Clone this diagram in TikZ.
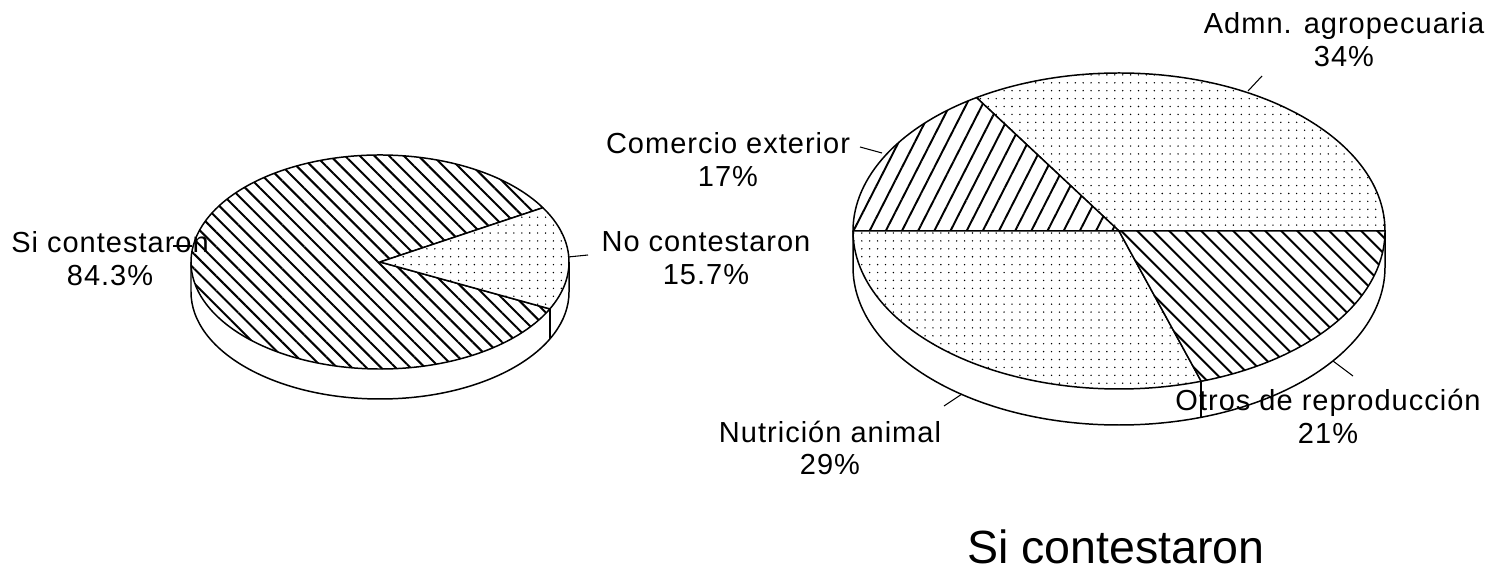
\documentclass[tikz,border=0pt]{standalone}
\usepackage{fontspec}
\setmainfont{Liberation Sans}
\usetikzlibrary{patterns.meta,calc}

\begin{document}
\begin{tikzpicture}[x=0.02cm,y=0.02cm,
  edge/.style={line width=0.85pt,line join=round},
  lead/.style={line width=0.6pt},
  dotwedge/.style={edge,preaction={fill=white},pattern={Dots[distance=4.5pt,radius=0.45pt]}},
  backhatch/.style={edge,preaction={fill=white},pattern={Lines[angle=-45,distance=5.9pt,line width=1.15pt]}},
  otroshatch/.style={edge,preaction={fill=white},pattern={Lines[angle=-45,distance=6.4pt,line width=1.15pt]}},
  fwdhatch/.style={edge,preaction={fill=white},pattern={Lines[angle=63,distance=8.2pt,line width=1.1pt]}},
  pielabel/.style={align=center,inner sep=0pt,font=\fontsize{16.5}{18.7}\selectfont\addfontfeatures{LetterSpace=3.5}}]
\useasboundingbox (0,0) rectangle (1493,-573);
% Left pie
\coordinate (lc) at (380,-262);
\draw[edge,fill=white] ($(lc)+(-189,0)$) -- ++(0,-30)
  arc[start angle=180,end angle=360,x radius=189,y radius=107] -- ++(0,30);
\draw[edge] ($(lc)+(-26:189 and 107)$) -- ++(0,-30);
\draw[backhatch] (lc) -- ($(lc)+(30.5:189 and 107)$)
  arc[start angle=30.5,end angle=334,x radius=189,y radius=107] -- cycle;
\draw[dotwedge] (lc) -- ($(lc)+(-26:189 and 107)$)
  arc[start angle=-26,end angle=30.5,x radius=189,y radius=107] -- cycle;
% Right pie
\coordinate (rc) at (1119,-231);
\draw[edge,fill=white] ($(rc)+(-266,0)$) -- ++(0,-36)
  arc[start angle=180,end angle=360,x radius=266,y radius=158] -- ++(0,36);
\draw[edge] ($(rc)+(288:266 and 158)$) -- ++(0,-36);
\draw[dotwedge] (rc) -- ($(rc)+(0:266 and 158)$)
  arc[start angle=0,end angle=122.4,x radius=266,y radius=158] -- cycle;
\draw[fwdhatch] (rc) -- ($(rc)+(122.4:266 and 158)$)
  arc[start angle=122.4,end angle=180,x radius=266,y radius=158] -- cycle;
\draw[dotwedge] (rc) -- ($(rc)+(180:266 and 158)$)
  arc[start angle=180,end angle=288,x radius=266,y radius=158] -- cycle;
\draw[otroshatch] (rc) -- ($(rc)+(288:266 and 158)$)
  arc[start angle=288,end angle=360,x radius=266,y radius=158] -- cycle;
% Labels
\node[pielabel] (sicont) at (110,-259) {Si contestaron\\84.3\%};
\node[pielabel] (nocont) at (706,-258) {No contestaron\\15.7\%};
\node[pielabel] (comercio) at (728,-160) {Comercio exterior\\17\%};
\node[pielabel] (admn) at (1344,-40) {Admn. agropecuaria\\34\%};
\node[pielabel] (nutri) at (830,-448) {Nutrición animal\\29\%};
\node[pielabel] (otros) at (1328,-416) {Otros de reproducción\\21\%};
\node[inner sep=0pt,font=\fontsize{26.5}{30}\selectfont] (title) at (1116,-547) {Si contestaron};
% Leaders
\coordinate (si-e) at (192,-246);  \coordinate (si-t) at (173,-246);
\coordinate (no-e) at (568,-257);  \coordinate (no-t) at (588,-255);
\coordinate (co-e) at (882,-153);  \coordinate (co-t) at (860,-147);
\coordinate (ad-e) at (1248,-91);  \coordinate (ad-t) at (1262,-76);
\coordinate (nu-e) at (962,-394);  \coordinate (nu-t) at (944,-406);
\coordinate (ot-e) at (1333,-361); \coordinate (ot-t) at (1353,-376);
\draw[lead] (si-e) -- (si-t);
\draw[lead] (no-e) -- (no-t);
\draw[lead] (co-e) -- (co-t);
\draw[lead] (ad-e) -- (ad-t);
\draw[lead] (nu-e) -- (nu-t);
\draw[lead] (ot-e) -- (ot-t);
\end{tikzpicture}
\end{document}
